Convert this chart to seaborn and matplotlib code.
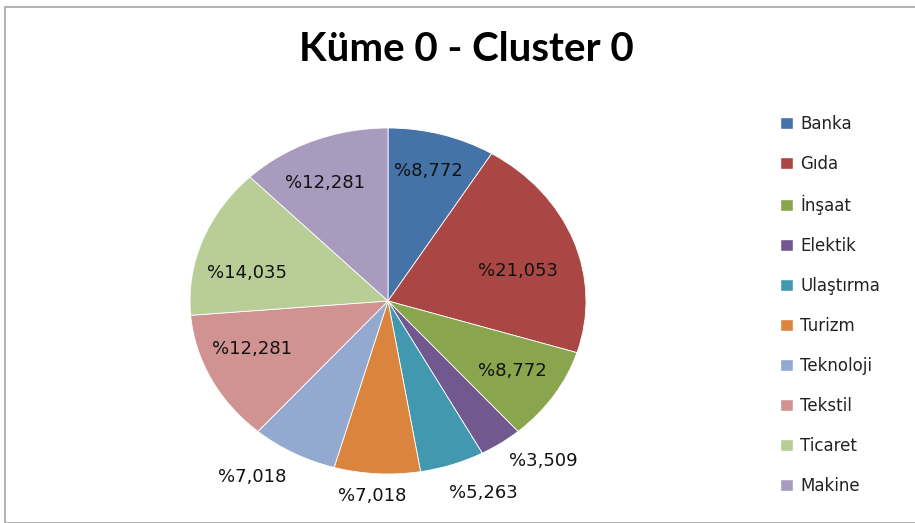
import numpy as np
import matplotlib
matplotlib.use("Agg")
import matplotlib.pyplot as plt
import seaborn as sns
from matplotlib.patches import Rectangle

sns.set_theme(style="white")
plt.rcParams['font.family'] = ['DejaVu Sans']

sectors = ["Banka", "Gıda", "İnşaat", "Elektik", "Ulaştırma",
           "Turizm", "Teknoloji", "Tekstil", "Ticaret", "Makine"]
shares = [8.772, 21.053, 8.772, 3.509, 5.263, 7.018, 7.018, 12.281, 14.035, 12.281]
labels = ["%8,772", "%21,053", "%8,772", "%3,509", "%5,263",
          "%7,018", "%7,018", "%12,281", "%14,035", "%12,281"]
colors = ["#4572A7", "#AA4643", "#89A54E", "#71588F", "#4198AF",
          "#DB843D", "#93A9CF", "#D19392", "#B9CD96", "#A99BBD"]

# label placement: distance from centre and small angle nudge (degrees)
label_r = [0.78, 0.68, 0.75, 1.21, 1.21, 1.13, 1.23, 0.74, 0.73, 0.75]
label_nudge = [0.7, -5.7, 0.3, 5.6, 4.5, -0.9, -5.6, -4.7, 7.6, 2.9]

palette = sns.color_palette(colors)

fig = plt.figure(figsize=(9.15, 5.23), dpi=100)
fig.patches.append(Rectangle((5 / 915, 0), 1, 1 - 7 / 523, transform=fig.transFigure,
                             fill=False, edgecolor="#a6a6a6", linewidth=1.2))

ax = fig.add_axes([190 / 915, 49 / 523, 396 / 915, 346 / 523])
wedges, _ = ax.pie(shares, colors=palette, startangle=90, counterclock=False,
                   wedgeprops=dict(edgecolor="white", linewidth=0.6))
ax.set_aspect("auto")
ax.set_xlim(-1, 1)
ax.set_ylim(-1, 1)

for w, txt, r, nudge in zip(wedges, labels, label_r, label_nudge):
    ang = np.deg2rad((w.theta1 + w.theta2) / 2 + nudge)
    ax.text(r * np.cos(ang), r * np.sin(ang), txt, ha="center", va="center",
            fontsize=13, color="#111111", clip_on=False)

fig.text(466 / 915, 1 - 49 / 523, "Küme 0 - Cluster 0", ha="center", va="center",
         fontsize=29, fontweight="bold", color="black", family=["Lato", "DejaVu Sans"])

handles = [Rectangle((0, 0), 1, 1, facecolor=c) for c in palette]
fig.legend(handles, sectors, loc="upper left", bbox_to_anchor=(765 / 915, 1 - 100 / 523),
           frameon=False, fontsize=12, handlelength=0.75, handleheight=0.75,
           handletextpad=0.45, labelspacing=1.32, labelcolor="#222222")

fig.savefig("out.png", dpi=100)
